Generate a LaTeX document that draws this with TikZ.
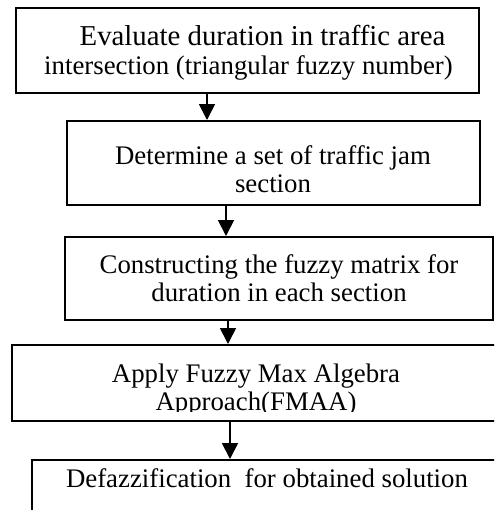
\documentclass[tikz,border=0pt]{standalone}
\usepackage{fontspec}
\setmainfont{Liberation Serif}
\usetikzlibrary{arrows.meta}
\newcommand{\lnstrut}{\rule{0pt}{10pt}}
\tikzset{
	stepbox/.style={draw, line width=1pt, rectangle, inner sep=0pt},
	steptext/.style={anchor=north, align=center, inner sep=0pt, font=\fontsize{13.4}{14.2}\selectfont},
	flowarrow/.style={line width=0.9pt, -{Triangle[width=8pt,length=8pt]}}
}
\begin{document}
\begin{tikzpicture}[x=0.5pt,y=-0.5pt]
		\useasboundingbox (0,0) rectangle (494,510);
		\clip (0,0) rectangle (494,510);
		% boxes
		\node [stepbox, minimum width=231.5pt, minimum height=42.5pt] (eval) at (247.5,50.5) {};
		\node [stepbox, minimum width=206.5pt, minimum height=42pt] (jam) at (273.5,163) {};
		\node [stepbox, minimum width=214pt, minimum height=41.5pt] (matrix) at (279,278.5) {};
		\node [stepbox, minimum width=244pt, minimum height=38pt] (fmaa) at (256,383) {};
		\node [stepbox, minimum width=235pt, minimum height=40pt] (defuzz) at (267,500) {};
		% texts
		\node [steptext] (evaltext) at (248.5,25) {\lnstrut\hspace*{14pt}{\fontsize{14.4}{14.2}\selectfont Evaluate duration in traffic area}\\intersection (triangular fuzzy number)};
		\node [steptext] (jamtext) at (273,144) {\lnstrut Determine a set of traffic jam\\section};
		\node [steptext] (matrixtext) at (279,253) {\lnstrut Constructing the fuzzy matrix for\\duration in each section};
		\begin{scope}
			\clip (12,345) rectangle (500,411);
			\node [steptext] (fmaatext) at (256,362) {\lnstrut Apply Fuzzy Max Algebra\\Approach(FMAA)};
		\end{scope}
		\node [steptext] (defuzztext) at (267,467) {\lnstrut Defazzification\ \ for obtained solution};
		% arrows
		\coordinate (a1) at (207,0);
		\coordinate (a2) at (226,0);
		\coordinate (a3) at (228,0);
		\coordinate (a4) at (230,0);
		\draw [flowarrow] (eval.south -| a1) -- (jam.north -| a1);
		\draw [flowarrow] (jam.south -| a2) -- (matrix.north -| a2);
		\draw [flowarrow] (matrix.south -| a3) -- (fmaa.north -| a3);
		\draw [flowarrow] (fmaa.south -| a4) -- (defuzz.north -| a4);
		\end{tikzpicture}
\end{document}
